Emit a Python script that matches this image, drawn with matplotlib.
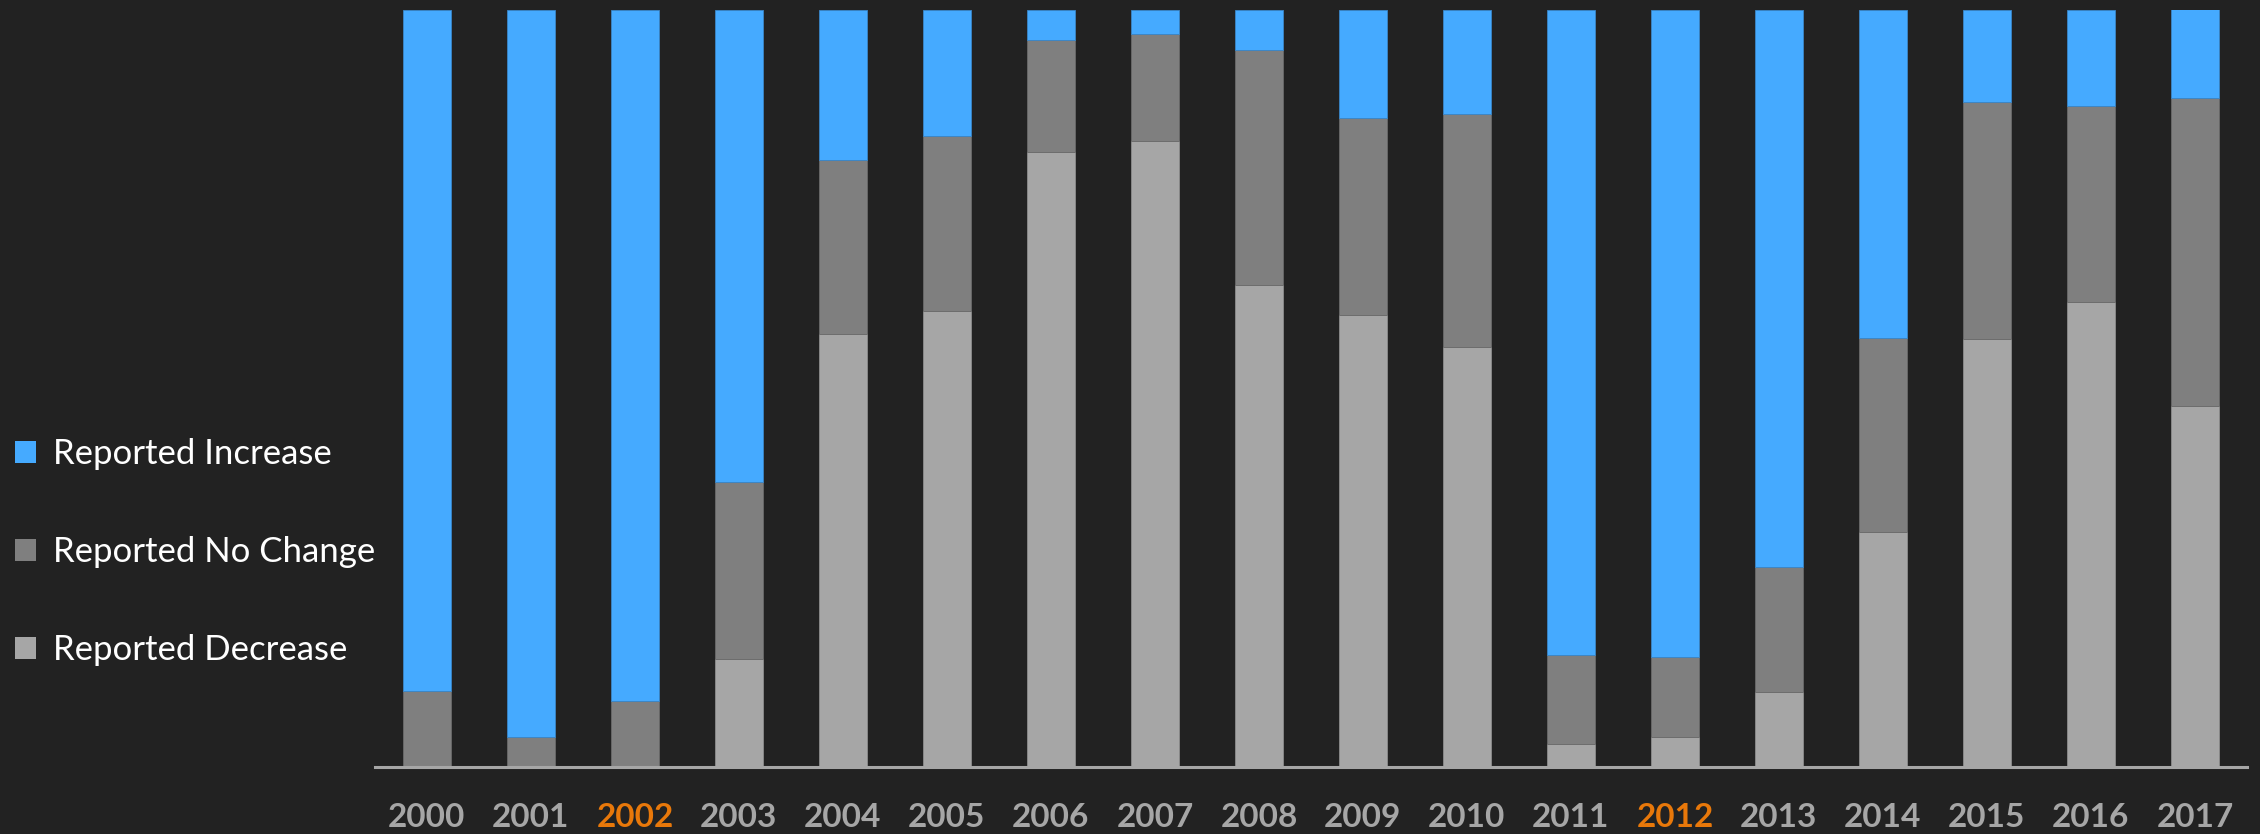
import matplotlib
matplotlib.use("Agg")
import matplotlib.pyplot as plt
from matplotlib.patches import Patch
import numpy as np

years = [str(y) for y in range(2000, 2018)]
highlight = ["2002", "2012"]

# shares in percent
decrease = [0.0, 0.0, 0.0, 14.3, 57.2, 60.3, 81.2, 82.7, 63.7, 59.7, 55.5, 3.0, 4.0, 9.9, 31.0, 56.5, 61.4, 47.7]
no_change = [10.1, 4.0, 8.7, 23.4, 23.0, 23.0, 14.8, 14.1, 31.0, 26.0, 30.8, 11.8, 10.6, 16.5, 25.7, 31.4, 25.9, 40.7]
increase = [89.9, 96.0, 91.3, 62.3, 19.8, 16.7, 4.0, 3.2, 5.3, 14.3, 13.7, 85.2, 85.4, 73.6, 43.3, 12.1, 12.7, 11.8]

bg = "#222222"
c_inc = "#45AAFF"
c_nc = "#7F7F7F"
c_dec = "#A6A6A6"
c_tick = "#A6A6A6"
c_hi = "#E8780A"

plt.rcParams['font.family'] = ['Lato', 'DejaVu Sans']

fig = plt.figure(figsize=(22.6, 8.34), dpi=100, facecolor=bg)
ax = fig.add_axes([0.1659, 0.0803, 0.8283, 0.9077], facecolor=bg)

x = np.arange(len(years))
dec = np.array(decrease)
nc = np.array(no_change)
inc = np.array(increase)
w = 0.46
ax.bar(x, dec, w, color=c_dec, edgecolor="#8c8c8c", linewidth=0.6)
ax.bar(x, nc, w, bottom=dec, color=c_nc, edgecolor="#6a6a6a", linewidth=0.6)
ax.bar(x, inc, w, bottom=dec + nc, color=c_inc, edgecolor="#3a86c8", linewidth=0.6)

ax.set_xlim(-0.5, len(years) - 0.5)
ax.set_ylim(0, 100)
ax.set_xticks(x)
ax.set_xticklabels(years, fontsize=24, fontweight="bold")
for lbl in ax.get_xticklabels():
    lbl.set_color(c_hi if lbl.get_text() in highlight else c_tick)
ax.tick_params(axis="x", length=0, pad=26)
ax.set_yticks([])
for s in ["top", "left", "right"]:
    ax.spines[s].set_visible(False)
ax.spines["bottom"].set_color(c_dec)
ax.spines["bottom"].set_linewidth(2.2)

handles = [Patch(facecolor=c_inc, edgecolor="none"),
           Patch(facecolor=c_nc, edgecolor="none"),
           Patch(facecolor=c_dec, edgecolor="none")]
labels = ["Reported Increase", "Reported No Change", "Reported Decrease"]
fig.legend(handles, labels, loc="center left", bbox_to_anchor=(0.0066, 0.338),
           frameon=False, fontsize=25, labelcolor="white",
           handlelength=0.6, handleheight=0.6, handletextpad=0.5,
           labelspacing=1.9, borderpad=0, borderaxespad=0)

fig.savefig("out.png", dpi=100, facecolor=bg)
